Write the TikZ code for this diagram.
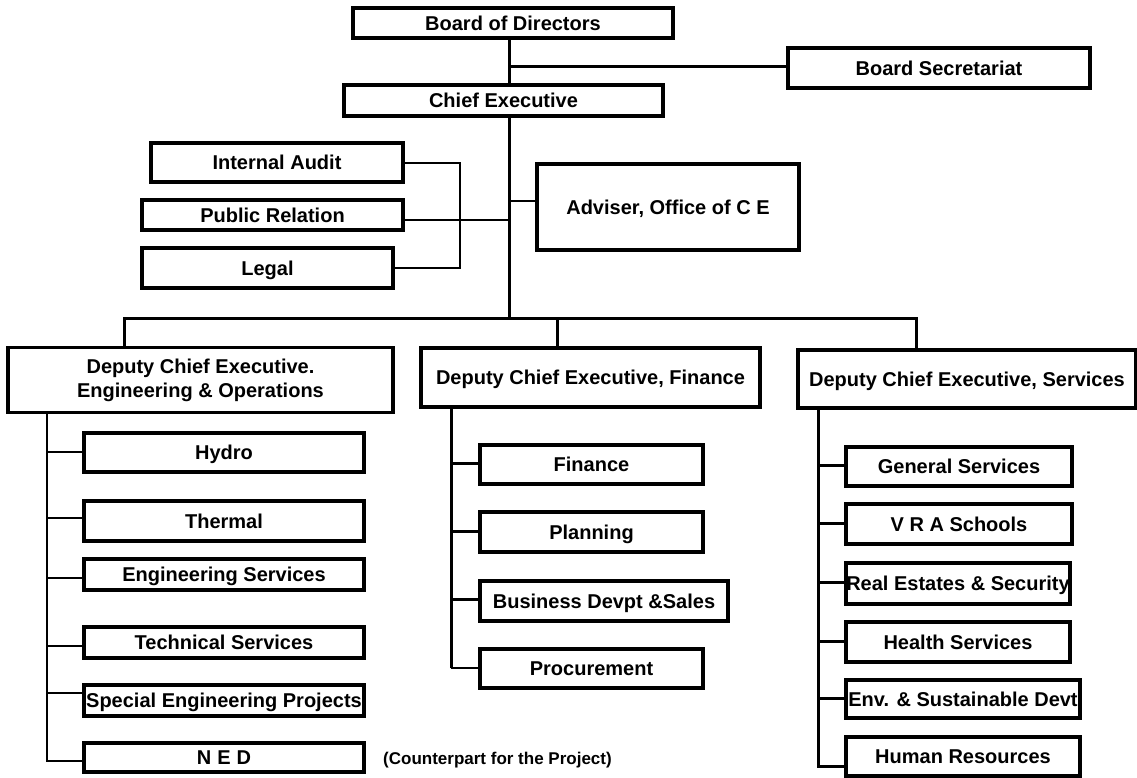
\documentclass[tikz,border=0pt]{standalone}
\usepackage{fontspec}
\setmainfont{Liberation Sans}
\tikzset{
 x=1pt,y=-1pt,
 bx/.style={draw=black,line width=3.3pt,fill=white,inner sep=0pt,align=center,text=black,font=\bfseries\fontsize{20}{24}\selectfont},
 ln/.style={draw=black,line width=3pt},
 tn/.style={draw=black,line width=1.5pt},
 md/.style={draw=black,line width=2.3pt},
}
\newcommand{\bxn}[6]{\node[bx,text height=14.3pt,text depth=0pt,minimum width=#4-#2,minimum height=#5-#3] (#1) at ({(#2+#4)/2},{(#3+#5)/2}) {#6};}
\begin{document}
\begin{tikzpicture}
\useasboundingbox (0,0) rectangle (1137,778);
\fill[white] (0,0) rectangle (1137,778);
\coordinate (j1) at (509,67);
\coordinate (j2) at (509,201);
\coordinate (j3) at (509,318);
\coordinate (j4) at (460,220);
\coordinate (jl) at (124,318);
\coordinate (jm) at (557,318);
\coordinate (jr) at (916,318);
\coordinate (tl) at (47,412);
\coordinate (tm) at (451,407);
\coordinate (tr) at (818,408);
\coordinate (sia) at (403,163);
\coordinate (slg) at (393,268);
\coordinate (sa1) at (47,452);
\coordinate (sa2) at (47,518);
\coordinate (sa3) at (47,578);
\coordinate (sa4) at (47,646);
\coordinate (sa5) at (47,693);
\coordinate (sa6) at (47,761);
\coordinate (sb1) at (451,463);
\coordinate (sb2) at (451,531);
\coordinate (sb3) at (451,599);
\coordinate (sb4) at (451,668);
\coordinate (sc1) at (818,465);
\coordinate (sc2) at (818,523);
\coordinate (sc3) at (818,582);
\coordinate (sc4) at (818,641);
\coordinate (sc5) at (818,698);
\coordinate (sc6) at (818,766);
\bxn{bod}{353}{8}{673}{38}{Board of Directors}
\bxn{sec}{788}{48}{1090}{88}{Board Secretariat}
\bxn{ce}{344}{85}{663}{116}{Chief Executive}
\bxn{ia}{151}{143}{403}{182}{Internal Audit}
\bxn{pr}{142}{200}{403}{230}{Public Relation}
\bxn{lg}{142}{248}{393}{288}{Legal}
\bxn{adv}{537}{164}{799}{250}{Adviser, Office of C E}
\node[bx,minimum width=385,minimum height=65] (d1) at (200.5,380) {Deputy Chief Executive.\\Engineering \& Operations};
\bxn{d2}{421}{348}{760}{407}{Deputy Chief Executive, Finance}
\bxn{d3}{798}{350}{1136}{408}{Deputy Chief Executive, Services}
\bxn{a1}{84}{433}{364}{472}{Hydro}
\bxn{a2}{84}{501}{364}{541}{Thermal}
\bxn{a3}{84}{559}{364}{590}{Engineering Services}
\bxn{a4}{84}{627}{364}{658}{Technical Services}
\bxn{a5}{84}{685}{364}{716}{Special Engineering Projects}
\bxn{a6}{84}{743}{364}{772}{N\kern6pt E\kern6pt D}
\bxn{b1}{480}{445}{703}{484}{Finance}
\bxn{b2}{480}{512}{703}{552}{Planning}
\bxn{b3}{480}{581}{728}{621}{Business Devpt \&Sales}
\bxn{b4}{480}{649}{703}{688}{Procurement}
\bxn{c1}{846}{447}{1072}{486}{General Services}
\bxn{c2}{846}{504}{1072}{544}{V R A Schools}
\bxn{c3}{846}{563}{1070}{604}{Real Estates \& Security}
\bxn{c4}{846}{622}{1070}{662}{Health Services}
\bxn{c5}{846}{680}{1080}{718}{Env. \& Sustainable Devt}
\bxn{c6}{846}{737}{1080}{776}{Human Resources}
\node[font=\bfseries\fontsize{17}{20}\selectfont,text=black,anchor=west,inner sep=0pt] (cp) at (383,760) {(Counterpart for the Project)};
\draw[ln] (bod.south -| j1) -- (ce.north -| j1);
\draw[ln] (j1) -- (j1 -| sec.west);
\draw[ln] (ce.south -| j2) -- (j3);
\draw[md] (j2) -- (j2 -| adv.west);
\draw[md] (sia) -- (sia -| j4) -- (slg -| j4) -- (slg);
\draw[md] (j4 -| pr.east) -- (j4 -| j2);
\draw[ln] (d1.north -| jl) -- (jl) -- (jr) -- (d3.north -| jr);
\draw[ln] (jm) -- (d2.north -| jm);
\draw[md] (tl) -- (sa6) -- (sa6 -| a6.west);
\foreach \n in {a1,a2,a3,a4,a5} \draw[tn] (s\n) -- (s\n -| \n.west);
\draw[ln] (tm) -- (sb4);
\draw[tn] (sb4) -- (sb4 -| b4.west);
\foreach \n in {b1,b2,b3} \draw[ln] (s\n) -- (s\n -| \n.west);
\draw[ln] (tr) -- (sc6) -- (sc6 -| c6.west);
\foreach \n in {c1,c2,c3,c4,c5} \draw[ln] (s\n) -- (s\n -| \n.west);
\end{tikzpicture}
\end{document}
